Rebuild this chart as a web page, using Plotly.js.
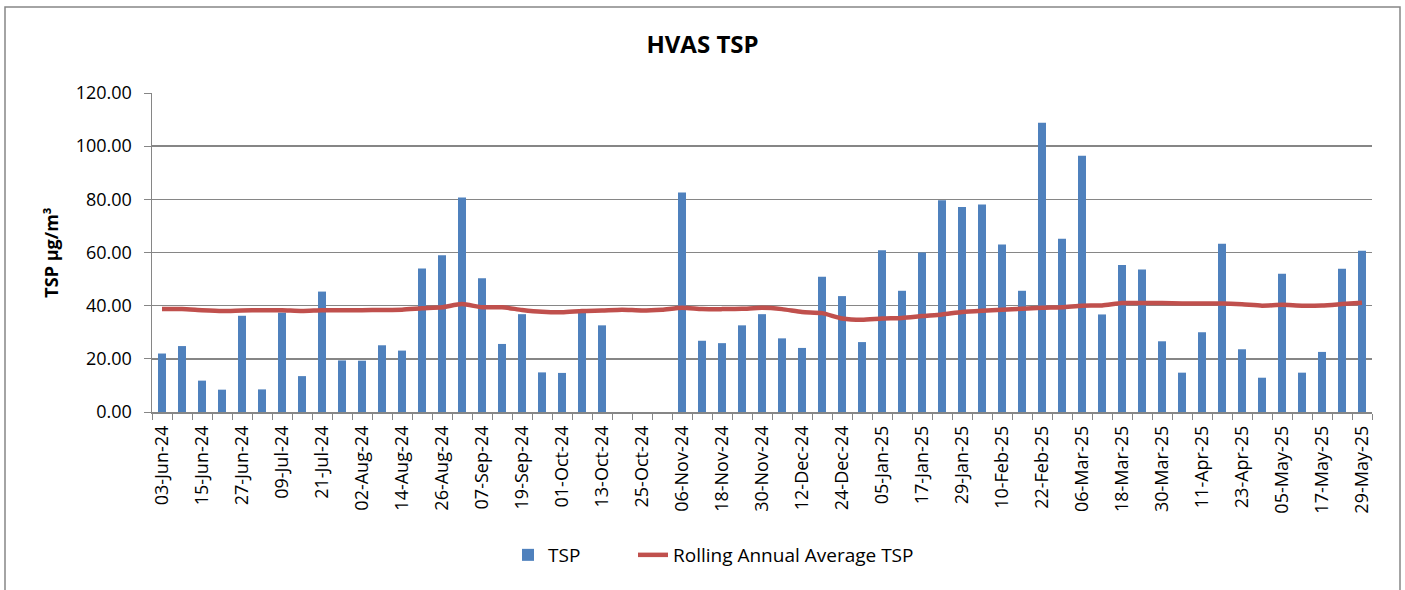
<!DOCTYPE html>
<html>
<head>
<meta charset="utf-8">
<script src="https://cdn.plot.ly/plotly-3.0.1.min.js"></script>
<style>
  body { margin: 0; background: #fff; }
  #plot { width: 1405px; height: 590px; }
</style>
</head>
<body>
<div id="plot"></div>
<script>
// sample dates, one every 6 days
const dates = [
  "03-Jun-24", "09-Jun-24", "15-Jun-24", "21-Jun-24", "27-Jun-24", "03-Jul-24", "09-Jul-24", "15-Jul-24",
  "21-Jul-24", "27-Jul-24", "02-Aug-24", "08-Aug-24", "14-Aug-24", "20-Aug-24", "26-Aug-24", "01-Sep-24",
  "07-Sep-24", "13-Sep-24", "19-Sep-24", "25-Sep-24", "01-Oct-24", "07-Oct-24", "13-Oct-24", "19-Oct-24",
  "25-Oct-24", "31-Oct-24", "06-Nov-24", "12-Nov-24", "18-Nov-24", "24-Nov-24", "30-Nov-24", "06-Dec-24",
  "12-Dec-24", "18-Dec-24", "24-Dec-24", "30-Dec-24", "05-Jan-25", "11-Jan-25", "17-Jan-25", "23-Jan-25",
  "29-Jan-25", "04-Feb-25", "10-Feb-25", "16-Feb-25", "22-Feb-25", "28-Feb-25", "06-Mar-25", "12-Mar-25",
  "18-Mar-25", "24-Mar-25", "30-Mar-25", "05-Apr-25", "11-Apr-25", "17-Apr-25", "23-Apr-25", "29-Apr-25",
  "05-May-25", "11-May-25", "17-May-25", "23-May-25", "29-May-25"
];

// TSP readings (null = no sample)
const tsp = [
  22.0, 24.8, 11.8, 8.4, 36.2, 8.5, 37.4, 13.5, 45.3, 19.4,
  19.3, 25.1, 23.1, 54.0, 59.0, 80.7, 50.3, 25.6, 36.8, 14.9,
  14.7, 37.4, 32.6, null, null, null, 82.6, 26.8, 25.9, 32.6,
  36.8, 27.7, 24.1, 50.9, 43.6, 26.3, 60.8, 45.6, 60.0, 79.7,
  77.1, 78.1, 63.0, 45.6, 108.8, 65.2, 96.4, 36.7, 55.3, 53.6,
  26.6, 14.8, 30.0, 63.3, 23.6, 12.9, 52.0, 14.8, 22.6, 53.9, 60.7
];

// rolling annual average
const rolling = [
  38.7, 38.7, 38.3, 38.0, 38.2, 38.3, 38.3, 38.0, 38.3, 38.3,
  38.3, 38.4, 38.5, 39.0, 39.4, 40.6, 39.4, 39.4, 38.4, 37.7,
  37.5, 38.0, 38.2, 38.5, 38.2, 38.5, 39.2, 38.7, 38.7, 38.8,
  39.2, 38.7, 37.6, 37.2, 35.2, 34.7, 35.2, 35.4, 36.1, 36.7,
  37.6, 38.1, 38.5, 38.8, 39.2, 39.4, 40.0, 40.1, 41.0, 41.0,
  41.0, 40.8, 40.8, 40.8, 40.5, 40.0, 40.3, 40.0, 40.1, 40.6, 41.1
];

// only every other date gets a label
const tickText = dates.map((d, i) => (i % 2 === 0 ? d : ""));

const font = "'Open Sans', sans-serif";
const grey = "#868686";

let tspTrace = {
  x: dates,
  y: tsp,
  name: "TSP",
  type: "bar",
  legend: "legend",
  marker: { color: "#4F81BD" }
};

let avgTrace = {
  x: dates,
  y: rolling,
  name: "Rolling Annual Average TSP",
  type: "scatter",
  mode: "lines",
  legend: "legend2",
  line: { color: "#C0504D", width: 4.5, shape: "spline", smoothing: 0.6 }
};

// plot area in pixels, used for the outer frame and legends
const m = { l: 152, r: 33, t: 93, b: 178 };
const pw = 1405 - m.l - m.r;
const ph = 590 - m.t - m.b;
const px = v => (v - m.l) / pw;
const py = v => (ph - (v - m.t)) / ph;

const legendFont = { family: font, size: 19, color: "#000" };

let layout = {
  width: 1405,
  height: 590,
  margin: m,
  paper_bgcolor: "#fff",
  plot_bgcolor: "#fff",
  font: { family: font, color: "#000", size: 18 },
  title: {
    text: "<b>HVAS TSP</b>",
    font: { family: font, size: 24, color: "#000" },
    x: 0.5,
    xanchor: "center",
    yref: "container",
    y: 1 - 45 / 590,
    yanchor: "middle"
  },
  bargap: 0.6,
  showlegend: true,
  legend: {
    orientation: "h",
    x: px(508),
    xanchor: "left",
    y: py(555),
    yanchor: "middle",
    font: legendFont
  },
  legend2: {
    orientation: "h",
    x: px(633),
    xanchor: "left",
    y: py(555),
    yanchor: "middle",
    font: legendFont
  },
  xaxis: {
    type: "category",
    range: [-0.5, dates.length - 0.5],
    tickvals: dates,
    ticktext: tickText,
    tickson: "boundaries",
    tickangle: -90,
    ticks: "outside",
    ticklen: 6,
    tickcolor: grey,
    ticklabelstandoff: 5,
    showline: true,
    linecolor: grey,
    linewidth: 1.5,
    showgrid: false,
    tickfont: { family: font, size: 18, color: "#000" },
    automargin: false
  },
  yaxis: {
    range: [0, 120],
    dtick: 20,
    tickformat: ".2f",
    ticks: "outside",
    ticklen: 7,
    tickcolor: grey,
    ticklabelstandoff: 8,
    showline: true,
    linecolor: grey,
    linewidth: 1.5,
    gridcolor: grey,
    gridwidth: 1.5,
    zeroline: false,
    tickfont: { family: font, size: 18, color: "#000" },
    title: {
      text: "<b>TSP µg/m³</b>",
      font: { family: font, size: 18, color: "#000" },
      standoff: 12
    },
    automargin: false
  },
  shapes: [{
    type: "rect",
    xref: "paper",
    yref: "paper",
    x0: px(5),
    x1: px(1400),
    y0: py(640),
    y1: py(7),
    line: { color: grey, width: 1.5 },
    fillcolor: "rgba(0,0,0,0)",
    layer: "above"
  }]
};

Plotly.newPlot("plot", [tspTrace, avgTrace], layout, { displayModeBar: false, staticPlot: true });
</script>
</body>
</html>
